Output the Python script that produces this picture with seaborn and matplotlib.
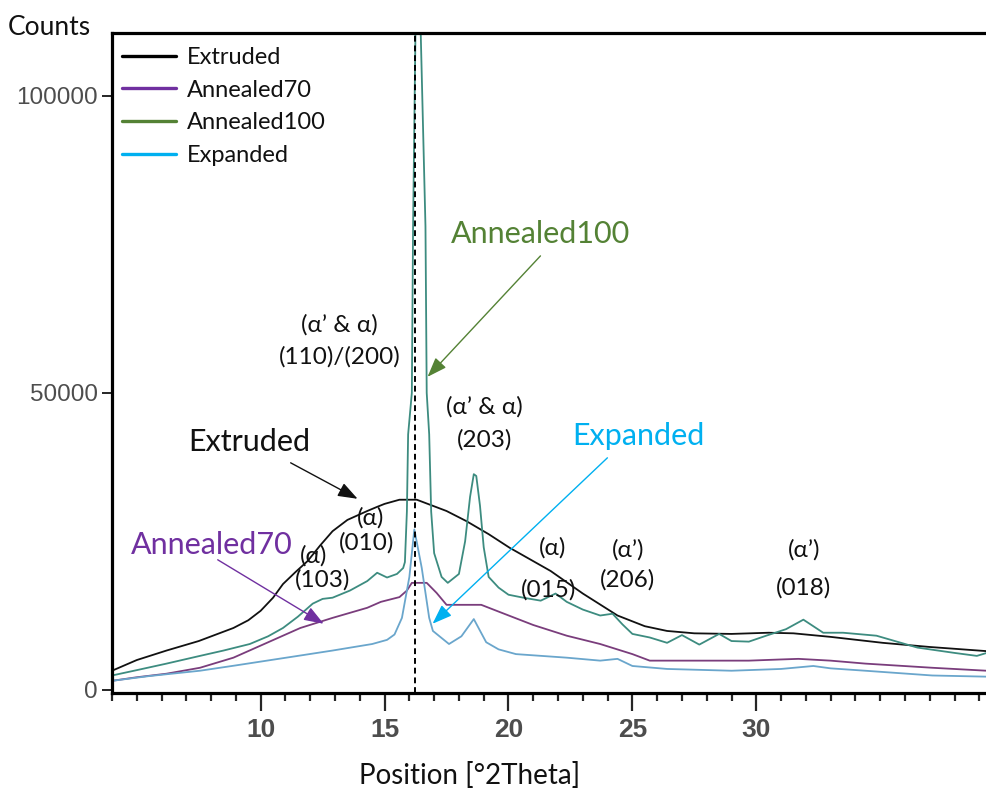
import numpy as np
import pandas as pd
import matplotlib
matplotlib.use("Agg")
import matplotlib.pyplot as plt
from matplotlib.lines import Line2D
import seaborn as sns

# ---------------- data ----------------
series_names = ["Extruded", "Annealed70", "Annealed100", "Expanded"]

extruded_x = [4.0, 5.0, 6.2, 7.5, 8.9, 9.5, 10.0, 10.5, 10.9, 11.4, 11.9, 12.4, 12.9, 13.5,
              14.3, 14.7, 15.0, 15.6, 16.3, 17.5, 18.3, 19.2, 20.05, 21.7, 23.0, 24.4,
              25.5, 26.4, 27.5, 29.0, 30.5, 31.5, 33.0, 35.1, 37.0, 39.3]
extruded_y = [3200, 5000, 6600, 8200, 10400, 11700, 13300, 15500, 17800, 19800, 21700,
              24300, 26700, 28600, 30100, 30800, 31300, 32000, 32000, 30100, 28400, 26200,
              23900, 20000, 16200, 12500, 10700, 9900, 9500, 9400, 9600, 9500, 8900, 7900,
              7200, 6500]

annealed70_x = [4.0, 5.0, 6.2, 7.55, 8.9, 10.25, 11.6, 12.9, 14.3, 14.85, 15.6, 15.9, 16.1,
                16.7, 17.1, 17.5, 18.9, 19.7, 21.0, 22.35, 23.7, 25.0, 25.7, 29.7, 31.0,
                31.7, 33.0, 34.4, 37.1, 39.3]
annealed70_y = [1500, 2100, 2700, 3700, 5400, 7900, 10400, 12100, 13800, 14800, 15600,
                16700, 18000, 18000, 16300, 14300, 14300, 13000, 10900, 9100, 7700, 6000,
                4900, 4900, 5100, 5200, 4900, 4400, 3700, 3200]

annealed100_x = [4.0, 5.0, 6.2, 7.55, 8.5, 9.56, 10.3, 10.9, 11.5, 12.1, 12.5, 12.9, 13.6,
                 14.3, 14.7, 15.1, 15.5, 15.75, 15.82, 15.9, 15.95, 16.1, 16.15, 16.2,
                 16.25, 16.35, 16.45, 16.55, 16.65, 16.7, 16.8, 16.88, 17.0, 17.3, 17.55,
                 18.0, 18.25, 18.45, 18.6, 18.7, 18.85, 19.0, 19.2, 19.6, 20.0, 20.6,
                 21.3, 21.9, 22.35, 23.0, 23.7, 24.2, 24.6, 25.0, 25.7, 26.4, 27.0, 27.7,
                 28.5, 29.0, 29.7, 30.4, 31.2, 31.9, 32.7, 33.5, 34.85, 36.5, 38.0, 38.9,
                 39.3]
annealed100_y = [2400, 3300, 4400, 5700, 6600, 7700, 9000, 10400, 12300, 14500, 15300,
                 15500, 16700, 18300, 19700, 18900, 19500, 20500, 21500, 30000, 43000,
                 50000, 78000, 95000, 112000, 118000, 112000, 95000, 78000, 50000, 43000,
                 30000, 23000, 19000, 18000, 19500, 25000, 32500, 36300, 36000, 31000,
                 24000, 19000, 17200, 16000, 15500, 15000, 16200, 14800, 13500, 12500,
                 12800, 11000, 9400, 8800, 7900, 9200, 7600, 9400, 8200, 8100, 9100,
                 10200, 11800, 9600, 9600, 9100, 7100, 6200, 5700, 6200]

expanded_x = [4.0, 5.5, 7.55, 9.0, 10.25, 11.5, 12.9, 14.5, 15.1, 15.4, 15.7, 16.0, 16.2,
              16.5, 16.8, 16.95, 17.6, 18.1, 18.6, 19.1, 19.6, 20.3, 22.35, 23.7, 24.4,
              25.0, 26.4, 29.0, 31.0, 32.3, 33.0, 34.4, 37.1, 39.3]
expanded_y = [1500, 2300, 3200, 4100, 4900, 5700, 6600, 7700, 8400, 9300, 12100, 19000,
              27000, 20500, 12100, 9900, 7700, 9000, 11900, 8000, 6800, 6000, 5400, 4900,
              5200, 4000, 3500, 3200, 3500, 4000, 3600, 3200, 2400, 2200]

x_ticks = [10, 15, 20, 25, 30]
y_ticks = [0, 50000, 100000]
ref_line_x = 16.22

# ---------------- styles ----------------
line_colors = {"Extruded": "#111111", "Annealed70": "#7a3d7c",
               "Annealed100": "#3d8c80", "Expanded": "#6aa6cc"}
legend_colors = {"Extruded": "#000000", "Annealed70": "#7030a0",
                 "Annealed100": "#548235", "Expanded": "#00b0f0"}

sns.set_style("white")
plt.rcParams["font.family"] = ["Lato", "Noto Sans", "DejaVu Sans"]

frames = []
for name, xs, ys in [("Extruded", extruded_x, extruded_y),
                     ("Annealed70", annealed70_x, annealed70_y),
                     ("Annealed100", annealed100_x, annealed100_y),
                     ("Expanded", expanded_x, expanded_y)]:
    frames.append(pd.DataFrame({"theta": xs, "counts": ys, "sample": name}))
df = pd.concat(frames, ignore_index=True)

fig = plt.figure(figsize=(9.87, 7.89), dpi=100)
ax = fig.add_axes([112 / 987, (789 - 693) / 789, 875 / 987, 660 / 789])

sns.lineplot(data=df, x="theta", y="counts", hue="sample", hue_order=series_names,
             palette=line_colors, estimator=None, sort=True, legend=False,
             linewidth=1.3, ax=ax)

ax.axvline(ref_line_x, color="black", lw=1.4, ls=(0, (3, 2)), zorder=5)

ax.set_xlim(4.03, 39.31)
ax.set_ylim(-550, 110600)

# spines
for s in ["left", "bottom", "top"]:
    ax.spines[s].set_linewidth(2.3)
    ax.spines[s].set_color("black")
ax.spines["right"].set_visible(False)

ax.set_xticks(x_ticks)
ax.set_xticks(np.arange(4, 40, 1), minor=True)
ax.set_yticks(y_ticks)
ax.set_yticklabels([str(v) for v in y_ticks])
ax.tick_params(axis="x", which="major", direction="out", length=13, width=1.6,
               pad=5, labelsize=19, labelcolor="#4d4d4d", bottom=True)
ax.tick_params(axis="x", which="minor", direction="out", length=6, width=1.6, bottom=True)
ax.tick_params(axis="y", which="major", direction="out", length=7, width=1.4,
               pad=3, labelsize=17.5, labelcolor="#4d4d4d", left=True)
for lab in ax.get_xticklabels():
    lab.set_fontfamily(["Liberation Sans", "DejaVu Sans"])
    lab.set_fontweight("bold")
for lab in ax.get_yticklabels():
    lab.set_fontfamily(["Liberation Sans", "DejaVu Sans"])

ax.set_xlabel("Position [°2Theta]", fontsize=20, color="#111111")
ax.xaxis.set_label_coords(0.409, -0.104)
ax.set_ylabel("Counts", fontsize=19, rotation=0, ha="center", va="center", color="#111111")
ax.yaxis.set_label_coords(-0.072, 1.009)

# legend
handles = [Line2D([0], [0], color=legend_colors[n], lw=2.4) for n in series_names]
leg = ax.legend(handles, series_names, loc="upper left", bbox_to_anchor=(0.011, 0.979),
                frameon=False, fontsize=17, handlelength=2.3, handletextpad=0.45,
                labelspacing=0.5, borderaxespad=0, borderpad=0)
for t in leg.get_texts():
    t.set_color("#111111")


def X(px):
    return 4.032 + (px - 112) / 24.8


def Y(py):
    return (690 - py) * 168.35


# peak labels
peak_font = 17.5
peaks = [("(α’ & α)", 339, 325), ("(110)/(200)", 339, 357),
         ("(α’ & α)", 484, 407), ("(203)", 484, 440),
         ("(α)", 370, 518), ("(010)", 366, 543),
         ("(α)", 313, 556), ("(103)", 322, 580),
         ("(α)", 552, 548), ("(015)", 548, 590),
         ("(α’)", 628, 550), ("(206)", 627, 580),
         ("(α’)", 804, 550), ("(018)", 803, 588)]
for txt, px, py in peaks:
    ax.text(X(px), Y(py), txt, ha="center", va="center", fontsize=peak_font,
            color="#111111", zorder=6)

# series callouts with arrows
callouts = [("Extruded", "#111111", (249, 442), (290, 463), (357, 499)),
            ("Annealed100", "#548235", (540, 234), (540, 256), (427, 377)),
            ("Annealed70", "#7030a0", (211, 545), (217, 560), (323, 624)),
            ("Expanded", "#00b0f0", (638, 436), (607, 458), (432, 624))]
for txt, col, tpos, tail, tip in callouts:
    ax.text(X(tpos[0]), Y(tpos[1]), txt, ha="center", va="center", fontsize=22,
            color=col, zorder=6)
    ax.annotate("", xy=(X(tip[0]), Y(tip[1])), xytext=(X(tail[0]), Y(tail[1])),
                arrowprops=dict(arrowstyle="-|>,head_length=0.6,head_width=0.22",
                                color=col, lw=1.0, shrinkA=0, shrinkB=0,
                                mutation_scale=20), zorder=7)

fig.savefig("out.png", dpi=100)
